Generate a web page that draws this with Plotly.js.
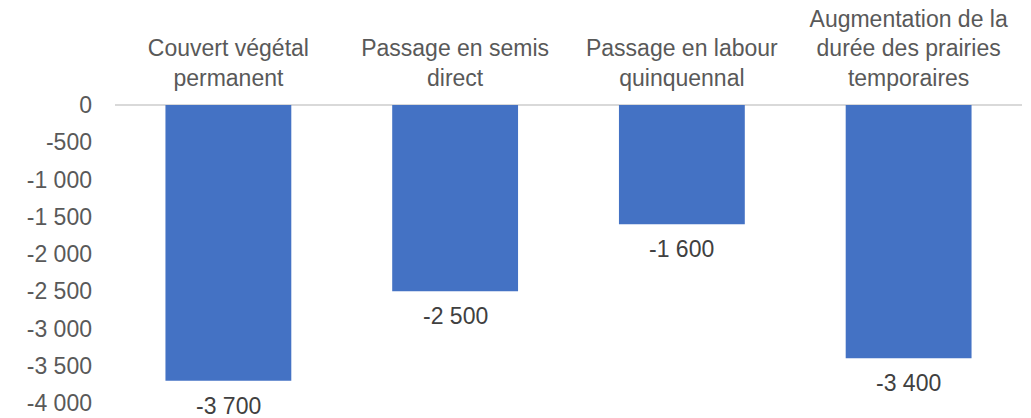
<!DOCTYPE html>
<html>
<head>
<meta charset="utf-8">
<script src="https://cdn.plot.ly/plotly-3.0.1.min.js"></script>
<style>html,body{margin:0;padding:0;background:#fff;}#chart{width:1031px;height:418px;}</style>
</head>
<body>
<div id="chart"></div>
<script>
const categories = [
  "Couvert végétal<br>permanent",
  "Passage en semis<br>direct",
  "Passage en labour<br>quinquennal",
  "Augmentation de la<br>durée des prairies<br>temporaires"
];
const values = [-3700, -2500, -1600, -3400];
const tickValues = [0, -500, -1000, -1500, -2000, -2500, -3000, -3500, -4000];

function fmt(v) {
  const s = Math.abs(v).toString().replace(/\B(?=(\d{3})+(?!\d))/g, " ");
  return (v < 0 ? "-" : "") + s;
}
const tickLabels = tickValues.map(fmt);

const data = [{
  type: "bar",
  x: categories,
  y: values,
  marker: {color: "#4472C4"},
  width: 0.555,
  hoverinfo: "none"
}];

const annotations = categories.map((c, i) => ({
  x: c, y: values[i], xref: "x", yref: "y",
  text: fmt(values[i]),
  showarrow: false,
  yanchor: "middle",
  yshift: -25,
  font: {family: "Liberation Sans, Arial, sans-serif", size: 23, color: "#404040"}
}));

const layout = {
  width: 1031, height: 418,
  margin: {l: 115, r: 9, t: 105, b: 15},
  paper_bgcolor: "#fff", plot_bgcolor: "#fff",
  showlegend: false,
  font: {family: "Liberation Sans, Arial, sans-serif", size: 23, color: "#595959"},
  xaxis: {
    side: "top",
    showgrid: false, showline: false, zeroline: false,
    ticks: "",
    ticklabelstandoff: 13,
    tickfont: {size: 23, color: "#595959"}
  },
  yaxis: {
    range: [-4000, 0],
    tickvals: tickValues,
    ticktext: tickLabels,
    showgrid: false,
    zeroline: true, zerolinecolor: "#d9d9d9", zerolinewidth: 2,
    showline: false, ticks: "",
    ticklabelstandoff: 22,
    tickfont: {size: 23, color: "#595959"}
  },
  annotations: annotations
};

Plotly.newPlot("chart", data, layout, {staticPlot: true, displayModeBar: false});
</script>
</body>
</html>
